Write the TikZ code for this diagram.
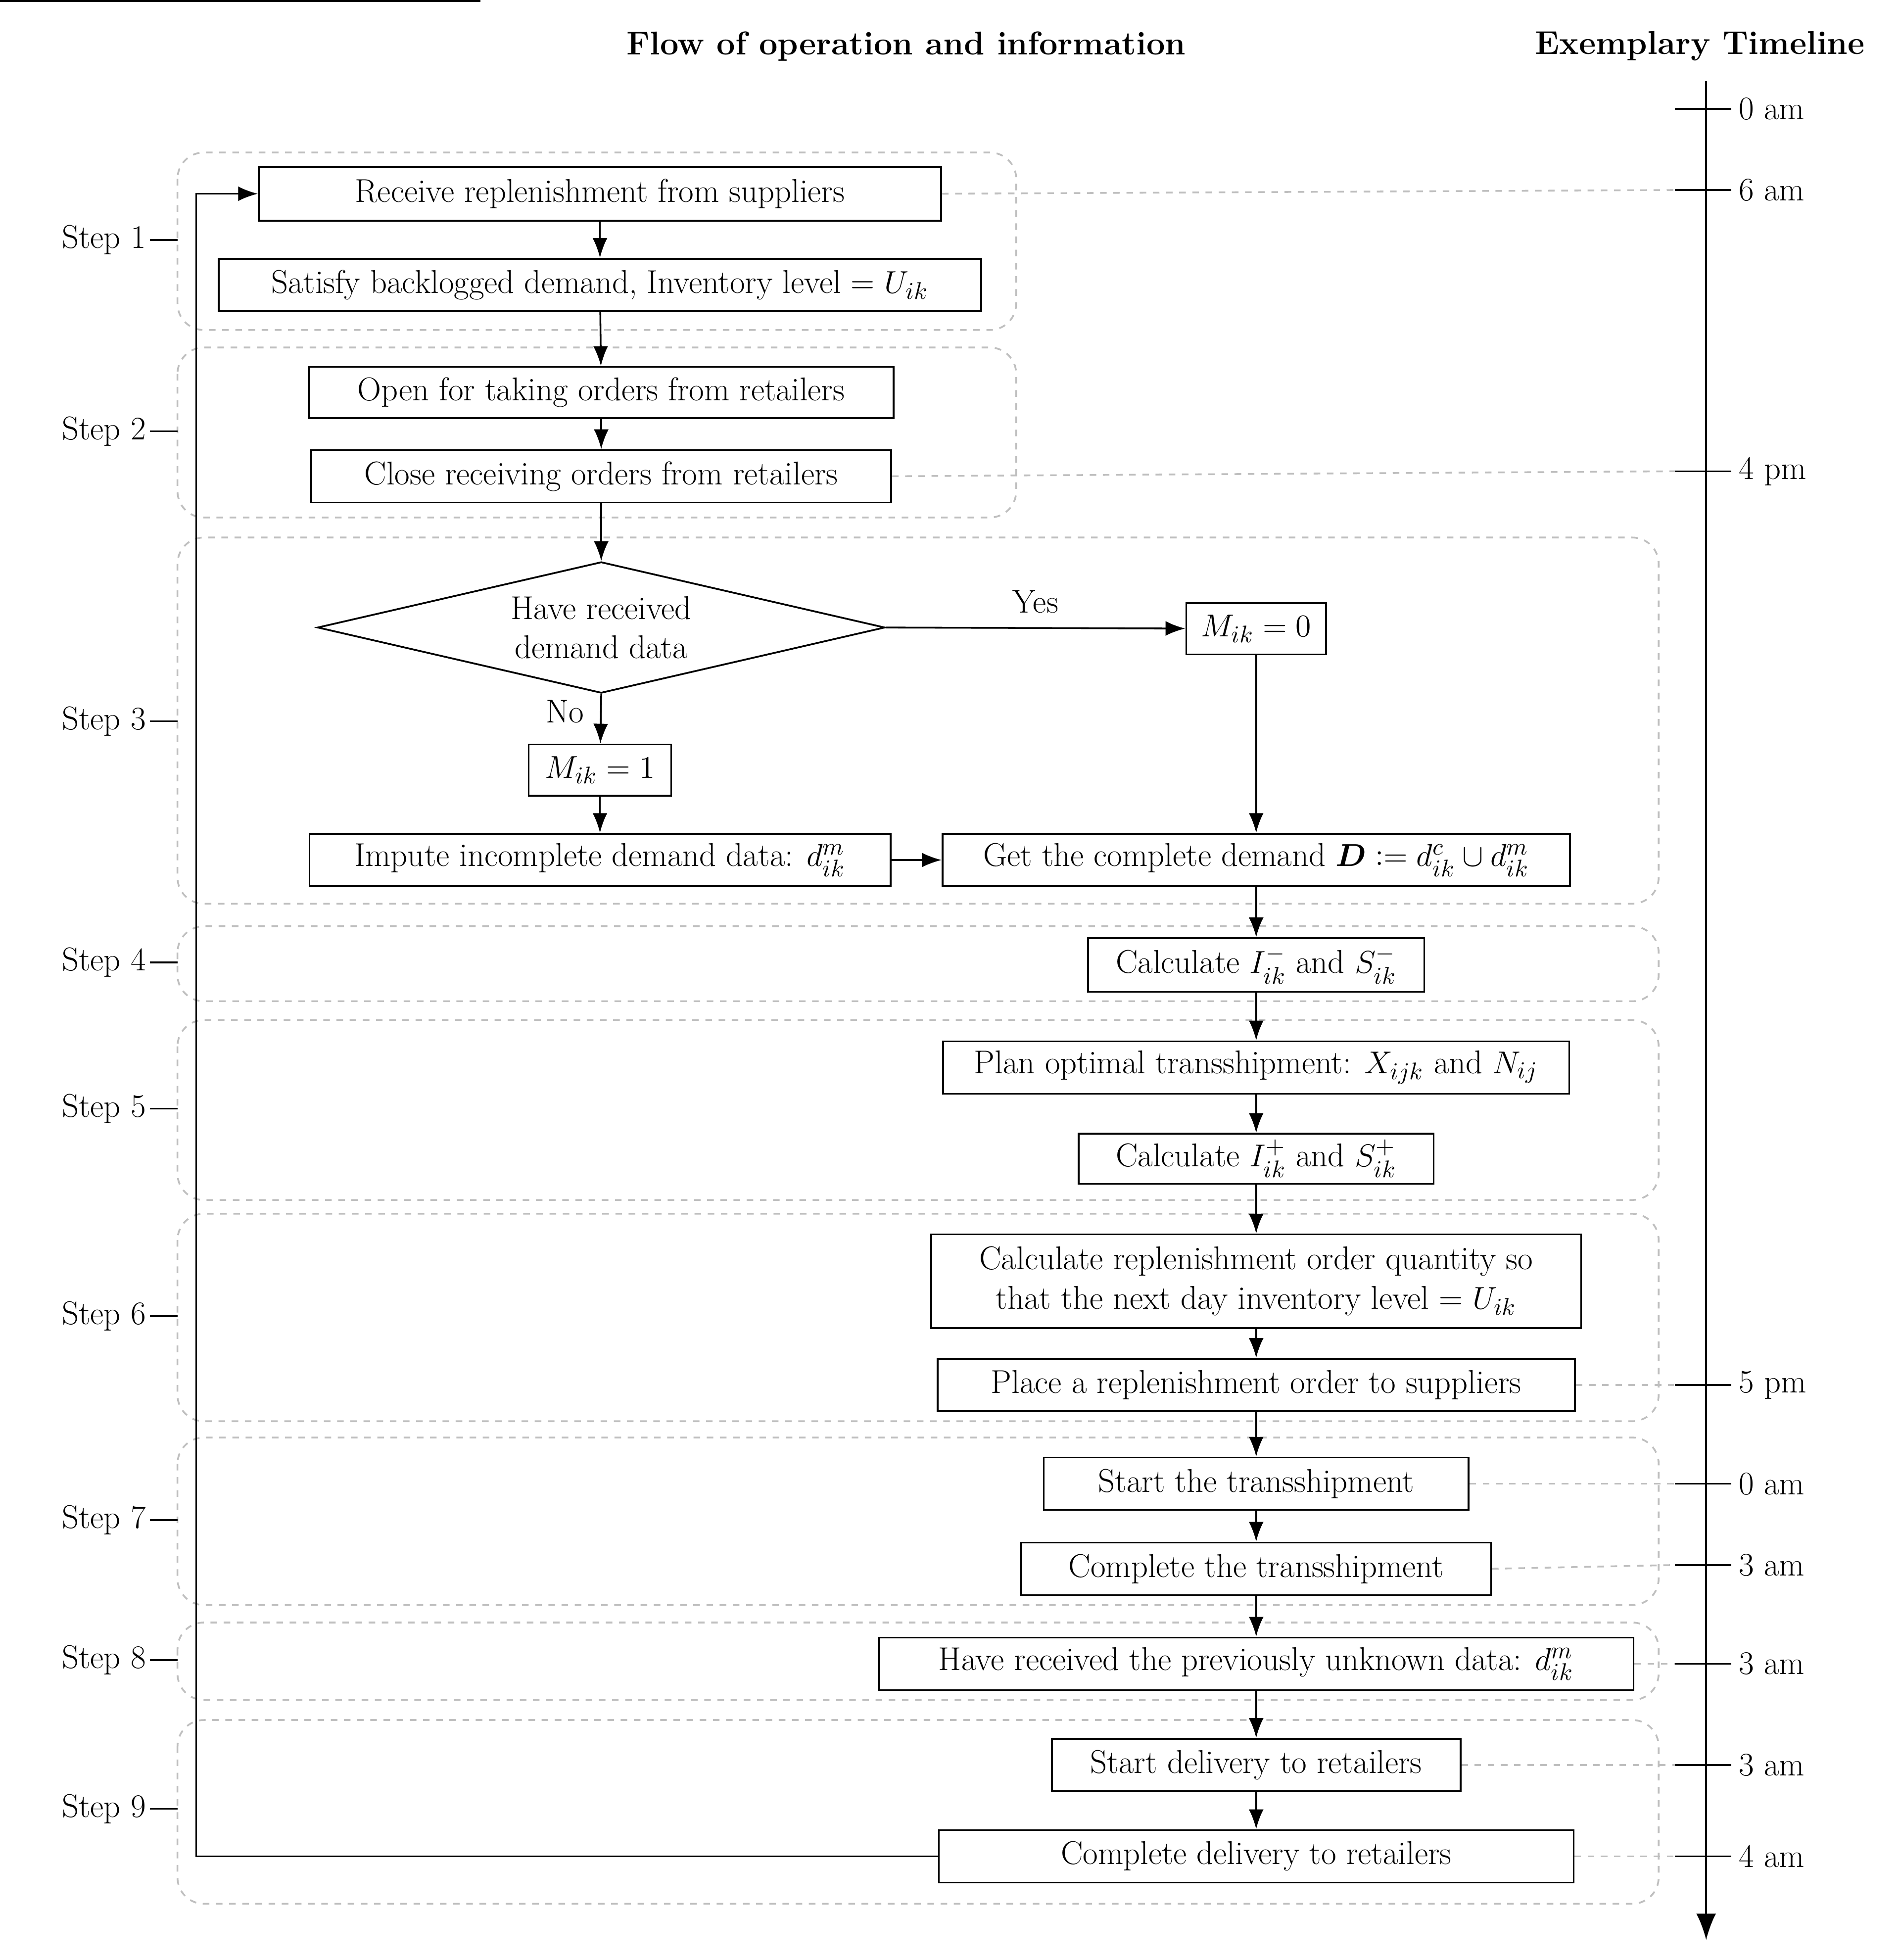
\documentclass[tikz,border=0pt]{standalone}
\usepackage{amsmath,bm}
\usetikzlibrary{shapes.geometric,arrows.meta}
\begin{document}
\begin{tikzpicture}[x=0.02cm,y=-0.02cm,font=\fontsize{15}{18}\selectfont,
 box/.style={draw,thick,inner sep=0pt,align=center},
 grp/.style={draw=black!25,dashed,rounded corners=12pt,thick},
 arr/.style={-{Latex[length=9pt]},thick},
 gl/.style={draw=black!25,dashed,thick},
 tk/.style={thick}]
\useasboundingbox (0,0) rectangle (1520,1568);
\node[font=\fontsize{15}{18}\selectfont\bfseries] (t1) at (725,37) {Flow of operation and information};
\node[font=\fontsize{15}{18}\selectfont\bfseries] (t2) at (1360,37) {Exemplary Timeline};
\coordinate (ax0) at (1365,65); \coordinate (ax1) at (1365,1552);
\draw[thick,-{Latex[length=12pt]}] (ax0) -- (ax1);
% groups
\foreach \a/\b/\c/\d/\ly/\n in {142/122/813/264/192/1,142/278/813/414/345/2,142/430/1327/723/577/3,142/741/1327/801/770/4,142/816/1327/960/887/5,142/971/1327/1137/1053/6,142/1150/1327/1284/1216/7,142/1298/1327/1360/1328/8,142/1376/1327/1523/1447/9}{
 \draw[grp] (\a,\b) rectangle (\c,\d);
 \node[anchor=east,inner sep=0pt] (s\n) at (117,\ly) {Step \n};
 \draw[thick] (s\n.east) ++(3,0) -- (142,\ly);
}
% boxes
\node[box,minimum width=546\pgflinewidth,text width=0pt] at (0,0) {};
\node[box,minimum width=10.92cm,minimum height=0.86cm] (b1) at (480,155) {Receive replenishment from suppliers};
\node[box,minimum width=12.2cm,minimum height=0.84cm] (b2) at (480,228) {Satisfy backlogged demand, Inventory level = $U_{ik}$};
\node[box,minimum width=9.36cm,minimum height=0.82cm] (b3) at (481,314) {Open for taking orders from retailers};
\node[box,minimum width=9.28cm,minimum height=0.84cm] (b4) at (481,381) {Close receiving orders from retailers};
\node[draw,diamond,thick,aspect=4.3,minimum width=9.08cm,minimum height=2.1cm,inner sep=0pt,align=center] (dm) at (481,502) {Have received\\demand data};
\node[box,minimum width=2.24cm,minimum height=0.82cm] (m0) at (1005,503) {$M_{ik}=0$};
\node[box,minimum width=2.28cm,minimum height=0.82cm] (m1) at (480,616) {$M_{ik}=1$};
\node[box,minimum width=9.3cm,minimum height=0.84cm] (imp) at (480,688) {Impute incomplete demand data: $d_{ik}^{m}$};
\node[box,minimum width=10.04cm,minimum height=0.84cm] (cmp) at (1005,688) {Get the complete demand $\bm{D}\mathrel{\mathop:}= d_{ik}^{c}\cup d_{ik}^{m}$};
\node[box,minimum width=5.38cm,minimum height=0.86cm] (c4) at (1005,772) {Calculate $I_{ik}^{-}$ and $S_{ik}^{-}$};
\node[box,minimum width=10.02cm,minimum height=0.84cm] (pl) at (1005,854) {Plan optimal transshipment: $X_{ijk}$ and $N_{ij}$};
\node[box,minimum width=5.68cm,minimum height=0.8cm] (c5) at (1005,927) {Calculate $I_{ik}^{+}$ and $S_{ik}^{+}$};
\node[box,minimum width=10.4cm,minimum height=1.5cm] (c6) at (1005,1025) {Calculate replenishment order quantity so\\that the next day inventory level = $U_{ik}$};
\node[box,minimum width=10.2cm,minimum height=0.84cm] (pr) at (1005,1108) {Place a replenishment order to suppliers};
\node[box,minimum width=6.8cm,minimum height=0.84cm] (st) at (1005,1187) {Start the transshipment};
\node[box,minimum width=7.52cm,minimum height=0.84cm] (ct) at (1005,1255) {Complete the transshipment};
\node[box,minimum width=12.08cm,minimum height=0.84cm] (hr) at (1005,1331) {Have received the previously unknown data: $d_{ik}^{m}$};
\node[box,minimum width=6.54cm,minimum height=0.84cm] (sd) at (1005,1412) {Start delivery to retailers};
\node[box,minimum width=10.16cm,minimum height=0.84cm] (cd) at (1005,1485) {Complete delivery to retailers};
% arrows
\draw[arr] (b1) -- (b2);
\draw[arr] (b2) -- (b3);
\draw[arr] (b3) -- (b4);
\draw[arr] (b4) -- (dm.north);
\draw[arr] (dm.east) -- node[above=3pt] (yes) {Yes} (m0);
\draw[arr] (dm.south) -- node[left=4pt,pos=0.35] (no) {No} (m1);
\draw[arr] (m1) -- (imp);
\draw[arr] (imp) -- (cmp);
\draw[arr] (m0) -- (cmp);
\draw[arr] (cmp) -- (c4);
\draw[arr] (c4) -- (pl);
\draw[arr] (pl) -- (c5);
\draw[arr] (c5) -- (c6);
\draw[arr] (c6) -- (pr);
\draw[arr] (pr) -- (st);
\draw[arr] (st) -- (ct);
\draw[arr] (ct) -- (hr);
\draw[arr] (hr) -- (sd);
\draw[arr] (sd) -- (cd);
\coordinate (fb1) at (157,1485); \coordinate (fb2) at (157,155);
\draw[arr] (cd.west) -- (fb1) -- (fb2) -- (b1.west);
% timeline
\foreach \y/\t/\n in {87/0 am/a,152/6 am/b,377/4 pm/c,1108/5 pm/d,1187/0 am/e,1252/3 am/f,1331/3 am/g,1412/3 am/h,1485/4 am/i}{
 \coordinate (tk\n) at (1340,\y);
 \draw[tk] (tk\n) -- (1385,\y);
 \node[anchor=west] (tl\n) at (1385,\y) {\t};
}
\draw[gl] (b1.east) -- (tkb);
\draw[gl] (b4.east) -- (tkc);
\draw[gl] (pr.east) -- (tkd);
\draw[gl] (st.east) -- (tke);
\draw[gl] (ct.east) -- (tkf);
\draw[gl] (hr.east) -- (tkg);
\draw[gl] (sd.east) -- (tkh);
\draw[gl] (cd.east) -- (tki);
\end{tikzpicture}
\end{document}
